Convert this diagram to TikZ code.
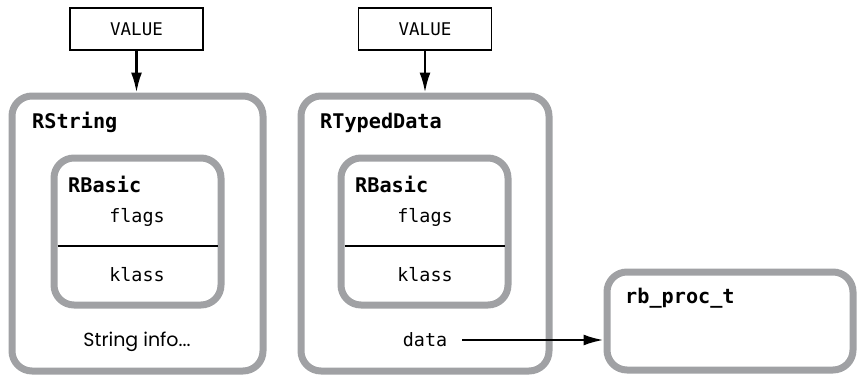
\documentclass[tikz,border=0pt]{standalone}
\usepackage{fontspec}
\setmonofont{DejaVu Sans Mono}
\newfontfamily\geofont{Poppins}
\usetikzlibrary{arrows.meta}
\definecolor{boxgray}{RGB}{160,161,164}
\tikzset{
  outerbox/.style={draw=boxgray, line width=7pt, rounded corners=20pt},
  valbox/.style={draw=black, line width=1.6pt, minimum width=133pt, minimum height=42pt, inner sep=0pt, font=\ttfamily\fontsize{17.5}{19}\selectfont},
  title/.style={anchor=base west, inner sep=0pt, font=\ttfamily\bfseries\fontsize{20.2}{22}\selectfont},
  field/.style={inner sep=0pt, font=\ttfamily\fontsize{18.4}{20}\selectfont},
  conn/.style={line width=2.4pt, -{Latex[length=20pt,width=11pt]}},
}
\begin{document}
\begin{tikzpicture}[x=1pt,y=-1pt]
\useasboundingbox (0,0) rectangle (857,375);
% left group
\node[valbox] (v1) at (136.5,29) {VALUE};
\draw[outerbox] (12,96) rectangle (263,371);
\coordinate (rs) at (137.5,92.5);
\node[title] (rstring) at (32,128) {RString};
\draw[outerbox] (54,158) rectangle (221,305);
\node[title] (rb1) at (68,192) {RBasic};
\node[field] (fl1) at (137,217) {flags};
\draw[line width=1.6pt] (57.5,246) -- (217.5,246);
\node[field] (kl1) at (137,275) {klass};
\node[inner sep=0pt, font=\geofont\fontsize{19}{21}\selectfont] (si) at (137,342) {String info...};
\draw[conn] (v1.south) -- (v1.south |- rs);
% right group
\node[valbox] (v2) at (425,29) {VALUE};
\draw[outerbox] (301,96) rectangle (549,371);
\coordinate (rt) at (425,92.5);
\node[title] (rtd) at (320,128) {RTypedData};
\draw[outerbox] (341,158) rectangle (508,305);
\node[title] (rb2) at (355,192) {RBasic};
\node[field] (fl2) at (425,217) {flags};
\draw[line width=1.6pt] (344.5,246) -- (504.5,246);
\node[field] (kl2) at (425,275) {klass};
\node[field] (data) at (425,340) {data};
\draw[conn] (v2.south) -- (v2.south |- rt);
% rb_proc_t
\draw[outerbox] (607,272) rectangle (853,370);
\coordinate (pt) at (603.5,340);
\node[title] (rbp) at (625,303) {rb\_proc\_t};
\draw[conn] (462,340) -- (pt);
\end{tikzpicture}
\end{document}
